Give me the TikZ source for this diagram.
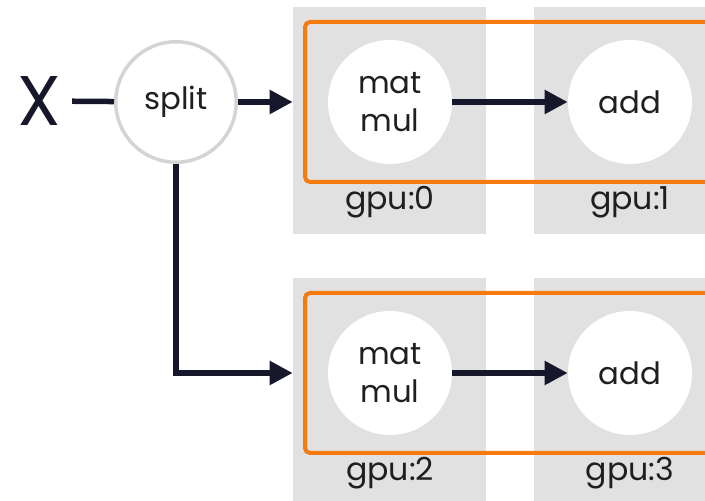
\documentclass[tikz,border=0pt]{standalone}
\usepackage{fontspec}
\setmainfont{Poppins}
\usetikzlibrary{arrows.meta, positioning}

\definecolor{gpugray}{HTML}{E1E1E1}
\definecolor{ringgray}{HTML}{D4D4D4}
\definecolor{grouporange}{HTML}{F57A10}
\definecolor{wire}{HTML}{17172B}
\definecolor{inktext}{HTML}{1F1F1F}

\begin{document}
\begin{tikzpicture}[
    gpubox/.style={fill=gpugray, minimum width=3.86cm, minimum height=4.54cm, inner sep=0pt},
    opnode/.style={circle, fill=white, minimum size=2.48cm, inner sep=0pt, align=center,
        text=inktext, font=\fontsize{17.5}{22}\selectfont},
    splitnode/.style={opnode, draw=ringgray, line width=0.07cm, minimum size=2.41cm},
    devlabel/.style={text=inktext, font=\fontsize{18}{22}\selectfont},
    groupbox/.style={draw=grouporange, line width=0.08cm, rounded corners=0.1cm},
    conn/.style={draw=wire, line width=0.11cm},
    arr/.style={-{Triangle[length=0.46cm, width=0.46cm]}}
]
\useasboundingbox (0,0) rectangle (14.1,10.02);
\begin{scope}[overlay]
\clip (0,0) rectangle (14.1,10.02);
% gpu boxes, top row then bottom row
\node[gpubox] (gpu0) at (7.79,7.61) {};
\node[gpubox] (gpu1) at (12.61,7.61) {};
\node[gpubox] (gpu2) at (7.79,2.19) {};
\node[gpubox] (gpu3) at (12.61,2.19) {};
\node[devlabel] (lab0) at (7.80,5.98) {gpu:0};
\node[devlabel] (lab1) at (12.60,5.98) {gpu:1};
\node[devlabel] (lab2) at (7.80,0.56) {gpu:2};
\node[devlabel] (lab3) at (12.60,0.56) {gpu:3};
% orange groups
\draw[groupbox] (6.10,6.38) rectangle (14.7,9.58);
\draw[groupbox] (6.10,0.96) rectangle (14.7,4.16);
% ops
\node[opnode] (mm0) at (7.80,7.98) {mat\\mul};
\node[opnode] (add0) at (12.60,7.98) {add};
\node[opnode] (mm2) at (7.80,2.56) {mat\\mul};
\node[opnode] (add2) at (12.60,2.56) {add};
% input and split
\node[text=wire, font=\fontsize{40}{40}\selectfont, inner sep=0.22cm] (x) at (0.78,8.0) {X};
\node[splitnode] (split) at (3.52,7.98) {split};
\draw[conn] (x) -- (split);
\draw[conn, arr] (split) -- (split -| gpu0.west);
\draw[conn, arr] (split.south) |- (mm2 -| gpu2.west);
\draw[conn, arr] (mm0) -- (add0);
\draw[conn, arr] (mm2) -- (add2);
\end{scope}
\end{tikzpicture}
\end{document}
